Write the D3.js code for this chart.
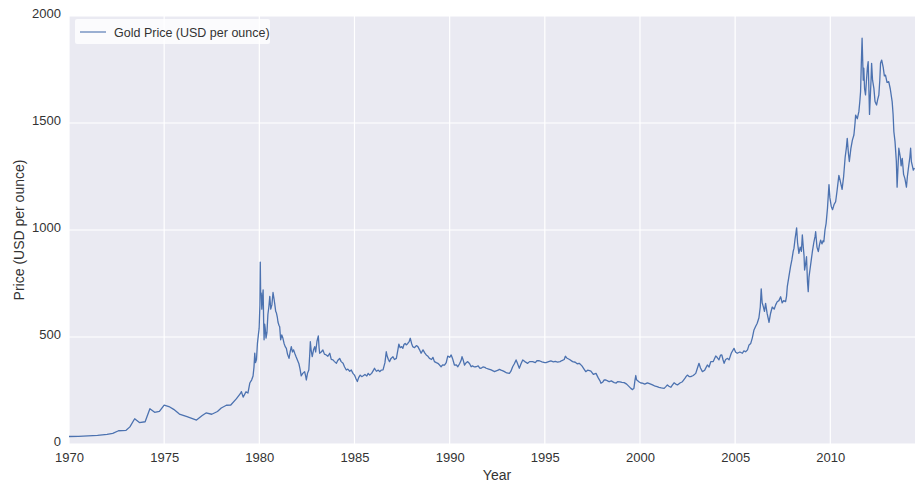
<!DOCTYPE html>
<html>
<head>
<meta charset="utf-8">
<script src="https://cdn.jsdelivr.net/npm/d3@7"></script>
<style>
  body { margin: 0; background: #ffffff; }
  svg { display: block; font-family: "Liberation Sans", Arial, sans-serif; }
</style>
</head>
<body>
<div id="chart"></div>
<script>

var width = 915,
    height = 487

var margin = {top: 16, right: 0, bottom: 43, left: 69}

// tick values
var xTicks = [1970, 1975, 1980, 1985, 1990, 1995, 2000, 2005, 2010]
var yTicks = [0, 500, 1000, 1500, 2000]

// gold price (year, USD per ounce)
var years = [
  1970.0, 1970.5, 1971.0, 1971.5, 1972.0, 1972.3, 1972.6, 1973.0, 1973.2, 1973.45,
  1973.7, 1974.0, 1974.25, 1974.5, 1974.75, 1975.0, 1975.25, 1975.5, 1975.8, 1976.2,
  1976.7, 1977.0, 1977.2, 1977.5, 1977.8, 1978.0, 1978.27, 1978.5, 1978.8, 1979.0,
  1979.06, 1979.15, 1979.3, 1979.4, 1979.5, 1979.6, 1979.67, 1979.72, 1979.76, 1979.8,
  1979.85, 1979.9, 1979.95, 1979.99, 1980.03, 1980.05, 1980.07, 1980.1, 1980.13, 1980.16,
  1980.2, 1980.23, 1980.25, 1980.28, 1980.31, 1980.35, 1980.4, 1980.45, 1980.5, 1980.55,
  1980.6, 1980.66, 1980.72, 1980.77, 1980.81, 1980.86, 1980.9, 1980.95, 1980.98, 1981.03,
  1981.07, 1981.12, 1981.18, 1981.24, 1981.3, 1981.36, 1981.42, 1981.48, 1981.56, 1981.62,
  1981.68, 1981.74, 1981.8, 1981.86, 1981.92, 1982.0, 1982.08, 1982.14, 1982.2, 1982.28,
  1982.38, 1982.44, 1982.47, 1982.53, 1982.6, 1982.65, 1982.68, 1982.72, 1982.78, 1982.85,
  1982.91, 1982.96, 1983.03, 1983.1, 1983.14, 1983.17, 1983.25, 1983.34, 1983.42, 1983.52,
  1983.6, 1983.7, 1983.78, 1983.87, 1983.95, 1984.05, 1984.12, 1984.22, 1984.3, 1984.4,
  1984.48, 1984.57, 1984.65, 1984.75, 1984.83, 1984.92, 1985.0, 1985.08, 1985.15, 1985.22,
  1985.3, 1985.38, 1985.44, 1985.55, 1985.65, 1985.72, 1985.8, 1985.9, 1986.0, 1986.05,
  1986.15, 1986.25, 1986.32, 1986.4, 1986.5, 1986.6, 1986.67, 1986.72, 1986.78, 1986.84,
  1986.92, 1987.02, 1987.1, 1987.2, 1987.28, 1987.33, 1987.4, 1987.48, 1987.54, 1987.6,
  1987.66, 1987.72, 1987.8, 1987.88, 1987.93, 1988.0, 1988.06, 1988.15, 1988.25, 1988.33,
  1988.42, 1988.5, 1988.6, 1988.7, 1988.77, 1988.86, 1988.94, 1989.05, 1989.12, 1989.2,
  1989.3, 1989.38, 1989.46, 1989.55, 1989.63, 1989.73, 1989.82, 1989.9, 1990.0, 1990.08,
  1990.15, 1990.25, 1990.35, 1990.43, 1990.52, 1990.6, 1990.65, 1990.72, 1990.78, 1990.87,
  1990.95, 1991.05, 1991.13, 1991.2, 1991.3, 1991.39, 1991.5, 1991.58, 1991.65, 1991.75,
  1991.85, 1991.92, 1992.05, 1992.18, 1992.28, 1992.35, 1992.45, 1992.55, 1992.61, 1992.7,
  1992.8, 1992.88, 1993.0, 1993.14, 1993.22, 1993.31, 1993.4, 1993.49, 1993.55, 1993.66,
  1993.75, 1993.84, 1993.95, 1994.1, 1994.2, 1994.36, 1994.5, 1994.6, 1994.71, 1994.85,
  1995.0, 1995.06, 1995.2, 1995.32, 1995.45, 1995.55, 1995.67, 1995.8, 1995.9, 1996.02,
  1996.08, 1996.15, 1996.3, 1996.46, 1996.6, 1996.7, 1996.81, 1996.95, 1997.07, 1997.15,
  1997.25, 1997.35, 1997.42, 1997.55, 1997.69, 1997.8, 1997.9, 1997.95, 1998.05, 1998.12,
  1998.21, 1998.3, 1998.38, 1998.5, 1998.58, 1998.65, 1998.75, 1998.82, 1998.95, 1999.05,
  1999.17, 1999.3, 1999.43, 1999.52, 1999.61, 1999.68, 1999.74, 1999.78, 1999.82, 1999.88,
  1999.96, 2000.05, 2000.13, 2000.25, 2000.39, 2000.5, 2000.66, 2000.8, 2000.9, 2001.0,
  2001.12, 2001.27, 2001.36, 2001.44, 2001.52, 2001.62, 2001.7, 2001.79, 2001.88, 2001.97,
  2002.1, 2002.23, 2002.35, 2002.42, 2002.49, 2002.58, 2002.67, 2002.8, 2002.93, 2003.02,
  2003.1, 2003.18, 2003.28, 2003.4, 2003.54, 2003.63, 2003.72, 2003.85, 2003.98, 2004.05,
  2004.15, 2004.23, 2004.3, 2004.36, 2004.42, 2004.5, 2004.6, 2004.68, 2004.8, 2004.94,
  2005.02, 2005.11, 2005.25, 2005.38, 2005.46, 2005.55, 2005.65, 2005.73, 2005.82, 2005.9,
  2005.99, 2006.08, 2006.16, 2006.25, 2006.32, 2006.37, 2006.42, 2006.48, 2006.54, 2006.6,
  2006.68, 2006.73, 2006.78, 2006.86, 2006.95, 2007.05, 2007.13, 2007.21, 2007.3, 2007.39,
  2007.47, 2007.55, 2007.65, 2007.7, 2007.74, 2007.82, 2007.91, 2007.98, 2008.05, 2008.09,
  2008.15, 2008.2, 2008.23, 2008.28, 2008.35, 2008.42, 2008.48, 2008.53, 2008.58, 2008.62,
  2008.65, 2008.7, 2008.75, 2008.8, 2008.84, 2008.88, 2008.94, 2009.0, 2009.06, 2009.14,
  2009.2, 2009.23, 2009.3, 2009.37, 2009.43, 2009.49, 2009.56, 2009.62, 2009.66, 2009.72,
  2009.78, 2009.85, 2009.9, 2009.93, 2009.98, 2010.05, 2010.12, 2010.2, 2010.28, 2010.35,
  2010.45, 2010.52, 2010.62, 2010.7, 2010.78, 2010.84, 2010.89, 2010.95, 2011.0, 2011.08,
  2011.16, 2011.24, 2011.3, 2011.33, 2011.42, 2011.5, 2011.55, 2011.59, 2011.63, 2011.67,
  2011.7, 2011.73, 2011.76, 2011.8, 2011.85, 2011.9, 2011.95, 2011.99, 2012.03, 2012.06,
  2012.1, 2012.14, 2012.17, 2012.22, 2012.29, 2012.35, 2012.43, 2012.49, 2012.55, 2012.6,
  2012.64, 2012.7, 2012.78, 2012.84, 2012.9, 2012.98, 2013.07, 2013.15, 2013.25, 2013.3,
  2013.34, 2013.4, 2013.47, 2013.51, 2013.55, 2013.6, 2013.68, 2013.72, 2013.78, 2013.85,
  2013.92, 2014.0, 2014.05, 2014.12, 2014.18, 2014.22, 2014.26, 2014.3, 2014.36, 2014.42
]

var prices = [
  35, 36, 38, 40, 45, 50, 62, 64, 80, 118,
  100, 104, 165, 148, 152, 182, 175, 162, 140, 128,
  112, 133, 145, 139, 152, 168, 181, 182, 212, 235,
  245, 219, 244, 238, 285, 300, 318, 360, 425, 380,
  395, 470, 510, 540, 650, 850, 700, 705, 630, 680,
  720, 560, 487, 560, 540, 495, 520, 605, 640, 690,
  630, 650, 708, 680, 655, 620, 612, 590, 570, 555,
  548, 487, 510, 494, 470, 455, 447, 420, 400, 430,
  455, 430, 440, 424, 410, 393, 375, 350, 318, 330,
  338, 315, 299, 330, 346, 420, 478, 440, 408, 440,
  455, 430, 480, 505, 450, 424, 430, 439, 420, 416,
  410, 424, 395, 393, 385, 377, 390, 400, 385, 377,
  360, 346, 350, 340, 346, 330, 322, 305, 292, 310,
  322, 315, 318, 325, 318, 330, 322, 330, 345, 354,
  340, 345, 338, 345, 346, 380, 431, 410, 395, 385,
  400, 408, 395, 400, 440, 467, 450, 455, 447, 465,
  470, 463, 470, 480, 494, 470, 455, 450, 460, 455,
  440, 424, 440, 425, 416, 410, 400, 395, 405, 385,
  380, 377, 370, 361, 370, 369, 380, 411, 405, 416,
  400, 369, 370, 361, 375, 390, 408, 390, 369, 380,
  385, 375, 361, 365, 360, 361, 365, 355, 354, 360,
  358, 354, 350, 346, 342, 338, 342, 345, 349, 345,
  342, 338, 332, 330, 340, 361, 375, 393, 380, 354,
  375, 393, 385, 377, 385, 385, 380, 390, 389, 384,
  380, 380, 385, 388, 384, 386, 383, 385, 390, 395,
  410, 402, 395, 385, 382, 375, 377, 365, 349, 338,
  345, 343, 341, 325, 330, 310, 295, 284, 290, 300,
  299, 295, 291, 295, 290, 287, 285, 291, 290, 288,
  287, 280, 268, 260, 254, 260, 300, 320, 300, 296,
  290, 285, 284, 280, 286, 282, 276, 270, 268, 265,
  262, 260, 268, 276, 270, 265, 275, 286, 280, 276,
  285, 291, 305, 315, 322, 315, 315, 320, 330, 355,
  377, 355, 338, 345, 369, 360, 385, 385, 411, 405,
  393, 415, 416, 395, 377, 395, 400, 393, 425, 447,
  430, 424, 430, 424, 435, 431, 440, 463, 470, 495,
  533, 550, 564, 590, 640, 725, 660, 642, 620, 657,
  610, 590, 568, 610, 640, 630, 650, 665, 670, 688,
  660, 670, 665, 690, 735, 780, 829, 860, 900, 914,
  960, 990, 1010, 940, 891, 920, 900, 977, 920, 880,
  813, 840, 875, 760, 712, 780, 820, 860, 900, 945,
  970, 992, 920, 899, 930, 953, 935, 950, 945, 1000,
  1031, 1100, 1170, 1212, 1150, 1110, 1095, 1120, 1132, 1180,
  1255, 1230, 1190, 1250, 1340, 1380, 1428, 1360, 1320, 1380,
  1420, 1444, 1500, 1537, 1520, 1553, 1600, 1646, 1780, 1896,
  1800, 1700, 1756, 1660, 1631, 1700, 1760, 1787, 1650, 1540,
  1620, 1700, 1779, 1700, 1662, 1600, 1584, 1610, 1631, 1700,
  1780, 1794, 1760, 1720, 1724, 1690, 1693, 1660, 1600, 1540,
  1459, 1413, 1320, 1200, 1280, 1382, 1340, 1300, 1335, 1260,
  1240, 1200, 1250, 1300, 1340, 1382, 1320, 1304, 1280, 1290
]

var seriesName = "Gold Price (USD per ounce)"

var data = years.map(function(y, i) { return {year: y, price: prices[i]} })

var svg = d3.select("#chart")
  .append("svg")
    .attr("width", width)
    .attr("height", height)

var x = d3.scaleLinear()
  .domain([1970, 2014.45])
  .range([margin.left, width - margin.right])

var y = d3.scaleLinear()
  .domain([0, 2000])
  .range([height - margin.bottom, margin.top])

// background
svg.append("rect")
  .attr("x", x.range()[0])
  .attr("y", y.range()[1])
  .attr("width", x.range()[1] - x.range()[0])
  .attr("height", y.range()[0] - y.range()[1])
  .attr("fill", "#eaeaf2")

// grid
svg.append("g")
  .selectAll("line")
  .data(xTicks)
  .enter()
  .append("line")
    .attr("x1", function(d) { return x(d) })
    .attr("x2", function(d) { return x(d) })
    .attr("y1", y.range()[0])
    .attr("y2", y.range()[1])
    .attr("stroke", "white")
    .attr("stroke-width", 1.2)

svg.append("g")
  .selectAll("line")
  .data(yTicks)
  .enter()
  .append("line")
    .attr("x1", x.range()[0])
    .attr("x2", x.range()[1])
    .attr("y1", function(d) { return y(d) })
    .attr("y2", function(d) { return y(d) })
    .attr("stroke", "white")
    .attr("stroke-width", 1.2)

// axes, seaborn style: labels only
var xAxis = svg.append("g")
  .attr("transform", "translate(0," + y.range()[0] + ")")
  .call(d3.axisBottom(x).tickValues(xTicks).tickFormat(d3.format("d")).tickSize(0).tickPadding(9))
xAxis.select(".domain").remove()
xAxis.selectAll("text")
  .attr("font-family", "Liberation Sans, Arial, sans-serif")
  .attr("font-size", 13)
  .attr("fill", "#333333")

var yAxis = svg.append("g")
  .attr("transform", "translate(" + x.range()[0] + ",0)")
  .call(d3.axisLeft(y).tickValues(yTicks).tickFormat(d3.format("d")).tickSize(0).tickPadding(8))
yAxis.select(".domain").remove()
yAxis.selectAll("text")
  .attr("font-family", "Liberation Sans, Arial, sans-serif")
  .attr("font-size", 13)
  .attr("fill", "#333333")
  .attr("dy", "0.15em")

// the line
var line = d3.line()
  .x(function(d) { return x(d.year) })
  .y(function(d) { return y(d.price) })

svg.append("path")
  .datum(data)
  .attr("d", line)
  .attr("fill", "none")
  .attr("stroke", "#4c72b0")
  .attr("stroke-width", 1.3)
  .attr("stroke-linejoin", "round")

// axis titles
svg.append("text")
  .attr("x", 497)
  .attr("y", 480)
  .attr("text-anchor", "middle")
  .attr("font-size", 14)
  .attr("fill", "#333333")
  .text("Year")

svg.append("text")
  .attr("transform", "translate(24," + (y.range()[0] + y.range()[1]) / 2 + ") rotate(-90)")
  .attr("text-anchor", "middle")
  .attr("font-size", 14)
  .attr("fill", "#333333")
  .text("Price (USD per ounce)")

// legend
var legend = svg.append("g")
  .attr("transform", "translate(75,19)")

legend.append("rect")
  .attr("width", 195)
  .attr("height", 25)
  .attr("rx", 2)
  .attr("fill", "white")
  .attr("fill-opacity", 0.8)

legend.append("line")
  .attr("x1", 5)
  .attr("x2", 31)
  .attr("y1", 13)
  .attr("y2", 13)
  .attr("stroke", "#4c72b0")
  .attr("stroke-width", 1.1)

legend.append("text")
  .attr("x", 39)
  .attr("y", 17.5)
  .attr("font-size", 12.5)
  .attr("fill", "#333333")
  .text(seriesName)

</script>
</body>
</html>
